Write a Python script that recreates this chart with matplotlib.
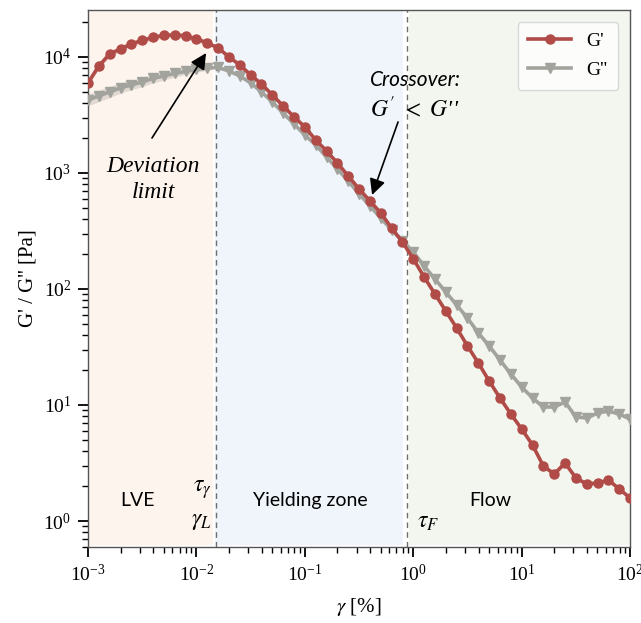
import numpy as np
import matplotlib
matplotlib.use("Agg")
import matplotlib.pyplot as plt

# Strain amplitude sweep: 51 points, 10 per decade from 1e-3 to 1e2 %
strain_exponents = np.linspace(-3, 2, 51)
strain = 10.0 ** strain_exponents

# log10 of storage modulus G' [Pa]
log_g_storage = [
    3.776, 3.922, 4.026, 4.069, 4.112, 4.142, 4.168, 4.185, 4.190, 4.181,
    4.155, 4.121, 4.078, 4.000, 3.931, 3.845, 3.767, 3.672, 3.578, 3.483,
    3.397, 3.284, 3.190, 3.086, 2.974, 2.862, 2.759, 2.655, 2.526, 2.405,
    2.260, 2.103, 1.957, 1.810, 1.664, 1.509, 1.362, 1.207, 1.060, 0.922,
    0.793, 0.655, 0.474, 0.405, 0.500, 0.371, 0.319, 0.328, 0.353, 0.276,
    0.198,
]
# log10 of loss modulus G'' [Pa]
log_g_loss = [
    3.629, 3.664, 3.698, 3.733, 3.759, 3.784, 3.815, 3.836, 3.858, 3.875,
    3.892, 3.905, 3.909, 3.879, 3.836, 3.776, 3.698, 3.612, 3.517, 3.422,
    3.328, 3.241, 3.138, 3.034, 2.931, 2.819, 2.716, 2.612, 2.509, 2.414,
    2.319, 2.198, 2.086, 1.974, 1.862, 1.750, 1.621, 1.509, 1.388, 1.267,
    1.155, 1.060, 0.983, 0.983, 1.026, 0.897, 0.888, 0.931, 0.948, 0.922,
    0.879,
]
# half-width of the replicate band, in decades
spread_storage = [0.025] * 12 + [0.008] * 18 + [0.010] * 11 + [0.022] * 6 + [0.012] * 4
spread_loss = [0.050, 0.050, 0.048, 0.045, 0.042, 0.040, 0.038, 0.035, 0.032, 0.028,
               0.024, 0.020] + [0.010] * 39

g_storage = 10.0 ** np.array(log_g_storage)
g_loss = 10.0 ** np.array(log_g_loss)

# Region boundaries (strain, %)
gamma_L = 0.0152
gamma_F = 0.877

plt.rcParams["font.family"] = ["Liberation Serif", "DejaVu Serif"]
plt.rcParams["mathtext.fontset"] = "stix"

fig = plt.figure(figsize=(6.41, 6.23), dpi=100)
ax = fig.add_axes([0.1373, 0.122, 0.983 - 0.1373, 0.984 - 0.122])
ax.set_xscale("log")
ax.set_yscale("log")
ax.set_xlim(1e-3, 1e2)
ax.set_ylim(0.597, 25400)

# Shaded regions
ax.axvspan(1e-3, 0.01422, ymin=0.004, color="#fdf4ee", zorder=0, lw=0)
ax.axvspan(0.0149, 0.805, ymin=0.004, color="#eff5fb", zorder=0, lw=0)
ax.axvspan(0.91, 1e2, ymin=0.004, color="#f3f6ef", zorder=0, lw=0)
for xv in (gamma_L, gamma_F):
    ax.axvline(xv, color="#6e6e6e", ls=(0, (4, 3)), lw=1.0, zorder=1)

red = "#b04b47"
grey = "#a2a39d"

ax.fill_between(strain, g_storage * 10 ** -np.array(spread_storage),
                g_storage * 10 ** np.array(spread_storage),
                color=red, alpha=0.18, lw=0, zorder=2)
ax.fill_between(strain, g_loss * 10 ** -np.array(spread_loss),
                g_loss * 10 ** np.array(spread_loss),
                color="#9c928c", alpha=0.28, lw=0, zorder=2)

ax.plot(strain, g_loss, color=grey, lw=2.6, marker="v", ms=7,
        label="G''", zorder=3)
ax.plot(strain, g_storage, color=red, lw=2.6, marker="o", ms=6.5,
        label="G'", zorder=4)

handles, labels = ax.get_legend_handles_labels()
leg = ax.legend(handles[::-1], labels[::-1], loc="upper right", fontsize=14,
                frameon=True, fancybox=True, edgecolor="#d0d0d0",
                framealpha=0.8, handlelength=2.2, borderpad=0.55,
                labelspacing=0.6, borderaxespad=0.6)

# Axis styling
for side in ("top", "right", "bottom", "left"):
    ax.spines[side].set_color("#555555")
    ax.spines[side].set_linewidth(1.0)
ax.tick_params(which="major", direction="out", length=7, width=1.3,
               labelsize=14, colors="black", top=False, right=False, pad=5)
ax.tick_params(which="minor", direction="out", length=4, width=1.0,
               top=False, right=False)
ax.set_xlabel(r"$\gamma$ [%]", fontsize=15, labelpad=8)
ax.set_ylabel("G' / G'' [Pa]", fontsize=15, labelpad=4)

# Annotations
serif_it = dict(family=["Liberation Serif", "DejaVu Serif"], style="italic", fontsize=17)
sans_it = dict(family=["Lato", "DejaVu Sans"], style="italic", fontsize=15)
ax.annotate("", xy=(0.01227, 10800), xytext=(0.00389, 2000),
            arrowprops=dict(arrowstyle="-|>", color="black", lw=1.2,
                            mutation_scale=24, shrinkA=0, shrinkB=0), zorder=6)
ax.text(0.0040, 1130, "Deviation", ha="center", va="center", **serif_it)
ax.text(0.0040, 680, "limit", ha="center", va="center", **serif_it)

ax.annotate("", xy=(0.417, 646), xytext=(0.724, 2750),
            arrowprops=dict(arrowstyle="-|>", color="black", lw=1.2,
                            mutation_scale=24, shrinkA=0, shrinkB=0), zorder=6)
ax.text(0.40, 6300, "Crossover:", ha="left", va="center", **sans_it)
ax.text(0.40, 3550, r"$G^{\prime}\ <\ G$''", ha="left", va="center",
        fontsize=17, style="italic")

region = dict(family=["Lato", "DejaVu Sans"], fontsize=14, ha="center", va="center")
ax.text(0.00289, 1.5, "LVE", **region)
ax.text(0.1117, 1.5, "Yielding zone", **region)
ax.text(5.1, 1.5, "Flow", **region)

ax.text(0.0140, 1.85, r"$\tau_{\gamma}$", ha="right", va="center", fontsize=17)
ax.text(0.0140, 1.0, r"$\gamma_{L}$", ha="right", va="center", fontsize=17)
ax.text(1.08, 0.98, r"$\tau_{F}$", ha="left", va="center", fontsize=17)

fig.savefig("out.png", dpi=100)
